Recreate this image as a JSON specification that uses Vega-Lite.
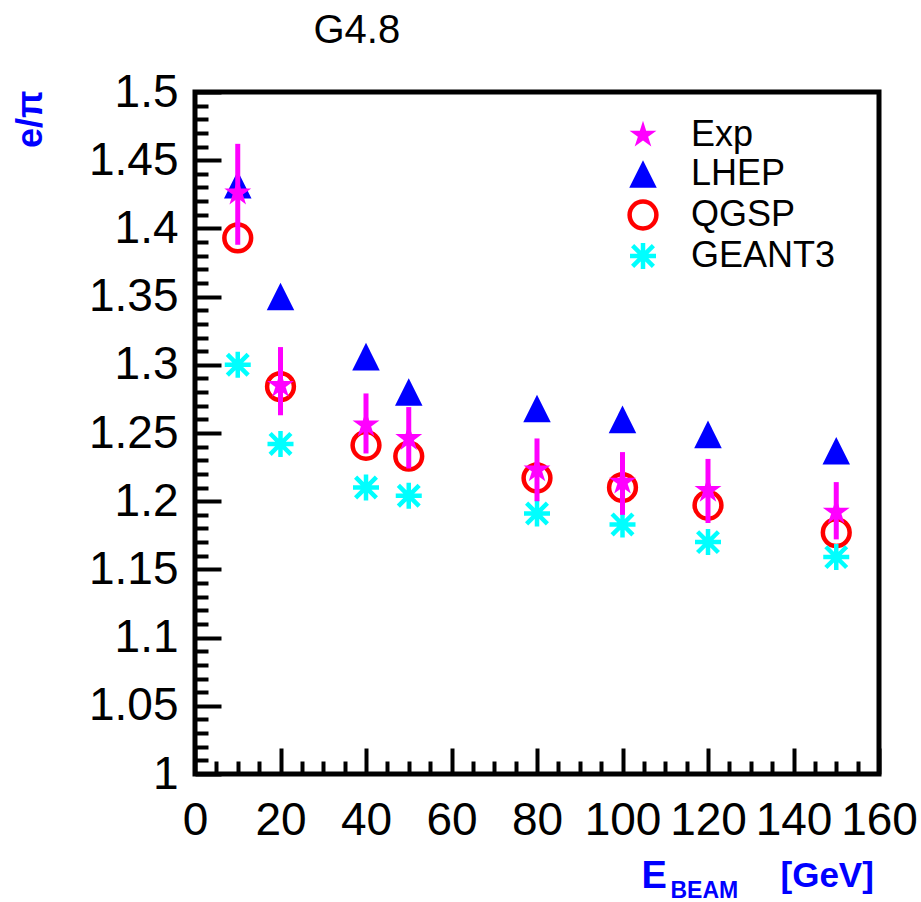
{
  "$schema": "https://vega.github.io/schema/vega-lite/v6.json",
  "width": 684,
  "height": 682,
  "autosize": {"type": "none"},
  "padding": {"left": 195, "top": 92, "right": 42, "bottom": 128},
  "background": "white",
  "config": {
    "font": "Liberation Sans",
    "view": {"stroke": "black", "strokeWidth": 5},
    "axis": {"grid": false, "domain": false, "tickColor": "black", "tickWidth": 4, "labelColor": "black", "labelFont": "Liberation Sans", "labelFontSize": 46, "labelOverlap": false, "labelFlush": false, "labelBound": false, "titleFont": "Liberation Sans", "titleAnchor": null, "titleAlign": "left", "titleBaseline": "alphabetic"}
  },
  "datasets": {
    "runs": [
      {"E": 10, "series": "LHEP", "value": 1.432},
      {"E": 20, "series": "LHEP", "value": 1.350},
      {"E": 40, "series": "LHEP", "value": 1.306},
      {"E": 50, "series": "LHEP", "value": 1.280},
      {"E": 80, "series": "LHEP", "value": 1.268},
      {"E": 100, "series": "LHEP", "value": 1.260},
      {"E": 120, "series": "LHEP", "value": 1.249},
      {"E": 150, "series": "LHEP", "value": 1.237},
      {"E": 10, "series": "QGSP", "value": 1.393},
      {"E": 20, "series": "QGSP", "value": 1.284},
      {"E": 40, "series": "QGSP", "value": 1.241},
      {"E": 50, "series": "QGSP", "value": 1.233},
      {"E": 80, "series": "QGSP", "value": 1.217},
      {"E": 100, "series": "QGSP", "value": 1.210},
      {"E": 120, "series": "QGSP", "value": 1.197},
      {"E": 150, "series": "QGSP", "value": 1.177},
      {"E": 10, "series": "GEANT3", "value": 1.300},
      {"E": 20, "series": "GEANT3", "value": 1.242},
      {"E": 40, "series": "GEANT3", "value": 1.210},
      {"E": 50, "series": "GEANT3", "value": 1.204},
      {"E": 80, "series": "GEANT3", "value": 1.191},
      {"E": 100, "series": "GEANT3", "value": 1.183},
      {"E": 120, "series": "GEANT3", "value": 1.170},
      {"E": 150, "series": "GEANT3", "value": 1.159},
      {"E": 10, "series": "Exp", "value": 1.426, "lo": 1.388, "hi": 1.462},
      {"E": 20, "series": "Exp", "value": 1.285, "lo": 1.263, "hi": 1.313},
      {"E": 40, "series": "Exp", "value": 1.256, "lo": 1.235, "hi": 1.279},
      {"E": 50, "series": "Exp", "value": 1.246, "lo": 1.224, "hi": 1.269},
      {"E": 80, "series": "Exp", "value": 1.223, "lo": 1.200, "hi": 1.246},
      {"E": 100, "series": "Exp", "value": 1.214, "lo": 1.190, "hi": 1.236},
      {"E": 120, "series": "Exp", "value": 1.208, "lo": 1.184, "hi": 1.231},
      {"E": 150, "series": "Exp", "value": 1.192, "lo": 1.172, "hi": 1.214}
    ]
  },
  "data": {"name": "runs"},
  "layer": [
    {
      "transform": [{"filter": "datum.series === 'LHEP'"}],
      "mark": {"type": "point", "strokeWidth": 4.5, "opacity": 1},
      "encoding": {
        "x": {
          "field": "E", "type": "quantitative",
          "scale": {"domain": [0, 160], "nice": false, "zero": false},
          "axis": {
            "orient": "bottom",
            "values": [0, 5, 10, 15, 20, 25, 30, 35, 40, 45, 50, 55, 60, 65, 70, 75, 80, 85, 90, 95, 100, 105, 110, 115, 120, 125, 130, 135, 140, 145, 150, 155, 160],
            "labelExpr": "datum.value % 20 === 0 ? '' + datum.value : ''",
            "tickSize": {"condition": {"test": "datum.value % 20 === 0", "value": -26}, "value": -13},
            "labelPadding": 50,
            "title": "E",
            "titleFontSize": 38, "titleFontWeight": "bold", "titleColor": "#0000ff",
            "titleX": 446, "titleY": 113
          }
        },
        "y": {
          "field": "value", "type": "quantitative",
          "scale": {"domain": [1, 1.5], "nice": false, "zero": false},
          "axis": {
            "orient": "left",
            "values": [1, 1.01, 1.02, 1.03, 1.04, 1.05, 1.06, 1.07, 1.08, 1.09, 1.1, 1.11, 1.12, 1.13, 1.14, 1.15, 1.16, 1.17, 1.18, 1.19, 1.2, 1.21, 1.22, 1.23, 1.24, 1.25, 1.26, 1.27, 1.28, 1.29, 1.3, 1.31, 1.32, 1.33, 1.34, 1.35, 1.36, 1.37, 1.38, 1.39, 1.4, 1.41, 1.42, 1.43, 1.44, 1.45, 1.46, 1.47, 1.48, 1.49, 1.5],
            "labelExpr": "abs(datum.value * 20 - round(datum.value * 20)) < 0.001 ? '' + round(datum.value * 100) / 100 : ''",
            "tickSize": {"condition": {"test": "abs(datum.value * 20 - round(datum.value * 20)) < 0.001", "value": -26}, "value": -13},
            "labelPadding": 43,
            "title": "e/π",
            "titleFontSize": 36, "titleFontWeight": "bold", "titleColor": "#0000ff",
            "titleAngle": -90, "titleX": -165, "titleY": -2, "titleAlign": "right", "titleBaseline": "middle"
          }
        },
        "shape": {
          "field": "series", "type": "nominal",
          "scale": {"domain": ["Exp", "LHEP", "QGSP", "GEANT3"], "range": ["M0,-1L0.2245,-0.309L0.951,-0.309L0.363,0.118L0.588,0.809L0,0.382L-0.588,0.809L-0.363,0.118L-0.951,-0.309L-0.2245,-0.309Z", "M0,-1L1,1L-1,1Z", "circle", "M0,-1L0,1M-1,0L1,0M-0.8,-0.8L0.8,0.8M-0.8,0.8L0.8,-0.8"]},
          "legend": {"title": null, "orient": "none", "legendX": 430, "legendY": 25, "padding": 0, "rowPadding": -5, "labelFontSize": 36, "labelFont": "Liberation Sans", "labelOffset": 30, "symbolStrokeWidth": 4.5, "encode": {"labels": {"update": {"fill": {"signal": "datum.value === 'Exp' ? '#ff00ff' : datum.value === 'LHEP' ? '#0000ff' : datum.value === 'QGSP' ? '#ff0000' : '#00ffff'"}}}}}
        },
        "fill": {
          "field": "series", "type": "nominal",
          "scale": {"domain": ["Exp", "LHEP", "QGSP", "GEANT3"], "range": ["#ff00ff", "#0000ff", "transparent", "transparent"]},
          "legend": {"title": null, "orient": "none", "legendX": 430, "legendY": 25, "padding": 0, "rowPadding": -5, "labelFontSize": 36, "labelFont": "Liberation Sans", "labelOffset": 30, "symbolStrokeWidth": 4.5, "encode": {"labels": {"update": {"fill": {"signal": "datum.value === 'Exp' ? '#ff00ff' : datum.value === 'LHEP' ? '#0000ff' : datum.value === 'QGSP' ? '#ff0000' : '#00ffff'"}}}}}
        },
        "stroke": {
          "field": "series", "type": "nominal",
          "scale": {"domain": ["Exp", "LHEP", "QGSP", "GEANT3"], "range": ["transparent", "transparent", "#ff0000", "#00ffff"]},
          "legend": {"title": null, "orient": "none", "legendX": 430, "legendY": 25, "padding": 0, "rowPadding": -5, "labelFontSize": 36, "labelFont": "Liberation Sans", "labelOffset": 30, "symbolStrokeWidth": 4.5, "encode": {"labels": {"update": {"fill": {"signal": "datum.value === 'Exp' ? '#ff00ff' : datum.value === 'LHEP' ? '#0000ff' : datum.value === 'QGSP' ? '#ff0000' : '#00ffff'"}}}}}
        },
        "size": {
          "field": "series", "type": "nominal",
          "scale": {"domain": ["Exp", "LHEP", "QGSP", "GEANT3"], "range": [800, 676, 650, 730]},
          "legend": {"title": null, "orient": "none", "legendX": 430, "legendY": 25, "padding": 0, "rowPadding": -5, "labelFontSize": 36, "labelFont": "Liberation Sans", "labelOffset": 30, "symbolStrokeWidth": 4.5, "encode": {"labels": {"update": {"fill": {"signal": "datum.value === 'Exp' ? '#ff00ff' : datum.value === 'LHEP' ? '#0000ff' : datum.value === 'QGSP' ? '#ff0000' : '#00ffff'"}}}}}
        }
      }
    },
    {
      "transform": [{"filter": "datum.series === 'QGSP' || datum.series === 'GEANT3'"}],
      "mark": {"type": "point", "strokeWidth": 4.5, "opacity": 1},
      "encoding": {
        "x": {
          "field": "E", "type": "quantitative",
          "axis": {"orient": "top", "ticks": false, "labels": false, "domain": false, "title": "G4.8", "titleFontSize": 40, "titleFontWeight": "normal", "titleColor": "black", "titleX": 118, "titleY": -50}
        },
        "y": {"field": "value", "type": "quantitative", "axis": null},
        "shape": {"field": "series", "type": "nominal"},
        "fill": {"field": "series", "type": "nominal"},
        "stroke": {"field": "series", "type": "nominal"},
        "size": {"field": "series", "type": "nominal"}
      }
    },
    {
      "transform": [{"filter": "datum.series === 'Exp'"}],
      "mark": {"type": "rule", "color": "#ff00ff", "strokeWidth": 5},
      "encoding": {
        "x": {
          "field": "E", "type": "quantitative",
          "axis": {"orient": "bottom", "ticks": false, "labels": false, "domain": false, "title": "BEAM", "titleFontSize": 23, "titleFontWeight": "bold", "titleColor": "#0000ff", "titleX": 475, "titleY": 123}
        },
        "y": {"field": "lo", "type": "quantitative", "axis": null},
        "y2": {"field": "hi"}
      }
    },
    {
      "transform": [{"filter": "datum.series === 'Exp'"}],
      "mark": {"type": "point", "strokeWidth": 4.5, "opacity": 1},
      "encoding": {
        "x": {
          "field": "E", "type": "quantitative",
          "axis": {"orient": "bottom", "ticks": false, "labels": false, "domain": false, "title": "[GeV]", "titleFontSize": 35, "titleFontWeight": "bold", "titleColor": "#0000ff", "titleX": 585, "titleY": 112}
        },
        "y": {"field": "value", "type": "quantitative", "axis": null},
        "shape": {"field": "series", "type": "nominal"},
        "fill": {"field": "series", "type": "nominal"},
        "stroke": {"field": "series", "type": "nominal"},
        "size": {"field": "series", "type": "nominal"}
      }
    }
  ],
  "resolve": {"axis": {"x": "independent", "y": "independent"}}
}
